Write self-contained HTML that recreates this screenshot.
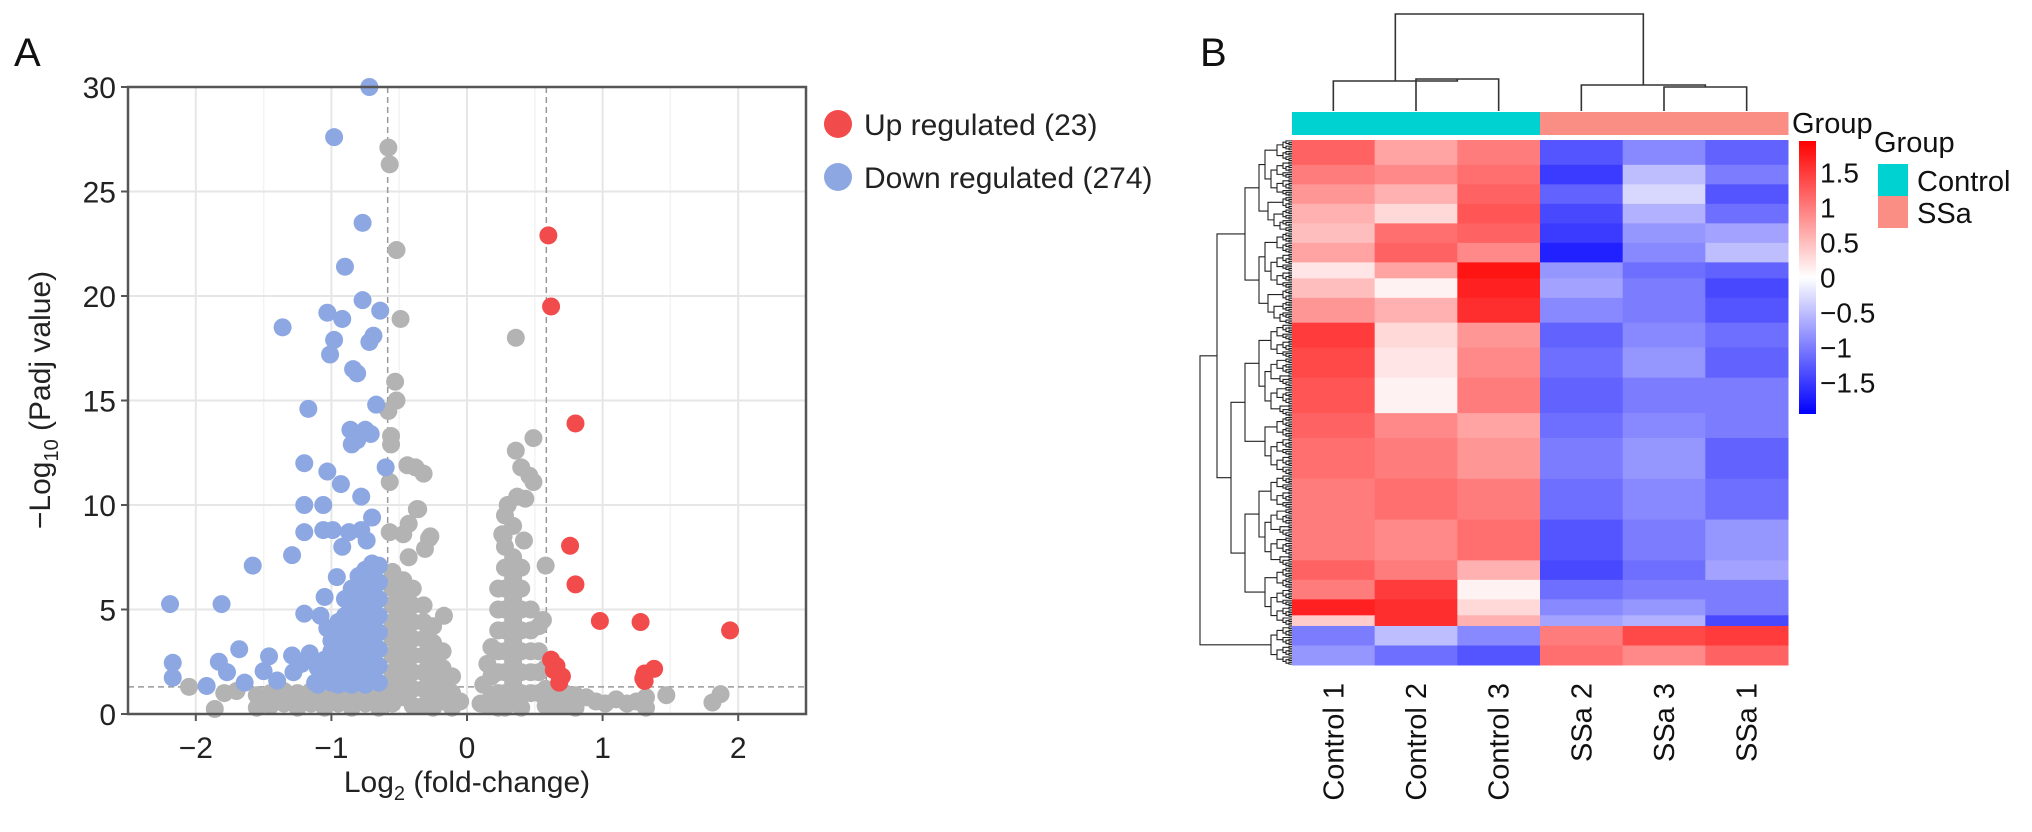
<!DOCTYPE html>
<html><head><meta charset="utf-8">
<style>
html,body{margin:0;padding:0;background:#fff;}
svg{display:block;font-family:"Liberation Sans",Arial,sans-serif;}
</style></head>
<body>
<svg id="fig" width="2032" height="832" viewBox="0 0 2032 832">
  <defs>
    <linearGradient id="cb" x1="0" y1="0" x2="0" y2="1">
      <stop offset="0" stop-color="#ff0000"/><stop offset="0.5" stop-color="#ffffff"/><stop offset="1" stop-color="#0000ff"/>
    </linearGradient>
  </defs>
  <text x="14" y="66" font-size="40" fill="#111">A</text>
  <text x="1200" y="66" font-size="40" fill="#111">B</text>
  <g id="volcano"></g>
  <text x="467" y="792" font-size="30" text-anchor="middle" fill="#222">Log<tspan font-size="20" dy="8">2</tspan><tspan dy="-8"> (fold-change)</tspan></text>
  <text transform="translate(50,400) rotate(-90)" font-size="30" text-anchor="middle" fill="#222">−Log<tspan font-size="20" dy="8">10</tspan><tspan dy="-8"> (Padj value)</tspan></text>
  <g><circle cx="838" cy="124" r="14" fill="#f24b4b"/><text x="864" y="135" font-size="30" fill="#222">Up regulated (23)</text></g>
  <g><circle cx="838" cy="177" r="14" fill="#8ca7e2"/><text x="864" y="188" font-size="30" fill="#222">Down regulated (274)</text></g>
  <g id="heat"></g>
  <text x="1792" y="133" font-size="29" fill="#111">Group</text>
  <rect x="1799" y="141" width="17" height="273" fill="url(#cb)"/>
  <text x="1874" y="152" font-size="29" fill="#111">Group</text>
  <g><rect x="1878" y="164" width="30" height="32" fill="#00d2d2"/><text x="1917" y="191" font-size="29" fill="#111">Control</text></g>
  <g><rect x="1878" y="196" width="30" height="32" fill="#fa8e84"/><text x="1917" y="223" font-size="29" fill="#111">SSa</text></g>
</svg>
<script>
// ===== Volcano data =====
const xTicks = [-2, -1, 0, 1, 2];
const yTicks = [0, 5, 10, 15, 20, 25, 30];
const fcThreshold = 0.585;
const pThreshold = 1.3;
const upPoints = [[0.60,22.9],[0.62,19.5],[0.80,13.9],[0.76,8.05],[0.80,6.2],[0.98,4.45],[1.28,4.4],[1.94,4.0],[1.38,2.16],[1.31,1.94],[1.31,1.58],[0.62,2.6],[0.64,2.1],[0.68,1.5],[0.70,1.8],[0.66,2.3],[1.30,1.7]];
const downPoints = [[-0.72,30],[-0.98,27.6],[-0.77,23.5],[-0.90,21.4],[-0.77,19.8],[-1.03,19.2],[-0.92,18.9],[-0.64,19.3],[-1.36,18.5],[-0.98,17.9],[-0.69,18.1],[-0.72,17.8],[-1.01,17.2],[-0.84,16.5],[-0.81,16.3],[-1.17,14.6],[-0.67,14.8],[-0.86,13.6],[-0.75,13.6],[-0.71,13.4],[-0.81,13.1],[-0.85,12.9],[-1.20,12.0],[-1.03,11.6],[-0.60,11.8],[-0.93,11.0],[-0.78,10.4],[-1.20,10.0],[-1.06,10.0],[-0.70,9.4],[-1.20,8.7],[-1.06,8.8],[-0.99,8.8],[-0.87,8.7],[-0.78,8.8],[-0.74,8.3],[-0.92,8.0],[-1.29,7.6],[-1.58,7.1],
[-2.19,5.26],[-1.81,5.26],[-1.68,3.1],[-2.17,2.45],[-2.17,1.74],[-1.83,2.5],[-1.77,2.0],[-1.92,1.34],[-1.64,1.5],[-1.29,2.8],[-1.46,2.76],[-1.50,2.05],[-1.20,4.8],[-1.08,4.7],[-1.03,4.1],[-1.05,5.6],[-0.96,6.55],[-1.16,2.9],[-1.28,2.0],[-1.00,3.5],[-1.40,1.6],[-1.12,1.5],[-1.22,2.4],
[-0.65,7.1],[-0.65,6.3],[-0.65,5.5],[-0.65,4.7],[-0.65,3.9],[-0.65,3.1],[-0.65,2.3],[-0.65,1.5],
[-0.70,7.2],[-0.70,6.4],[-0.70,5.6],[-0.70,4.8],[-0.70,4.0],[-0.70,3.2],[-0.70,2.4],[-0.70,1.6],
[-0.75,6.9],[-0.75,6.1],[-0.75,5.3],[-0.75,4.5],[-0.75,3.7],[-0.75,2.9],[-0.75,2.1],[-0.75,1.4],
[-0.80,6.6],[-0.80,5.8],[-0.80,5.0],[-0.80,4.2],[-0.80,3.4],[-0.80,2.6],[-0.80,1.8],
[-0.85,6.0],[-0.85,5.2],[-0.85,4.4],[-0.85,3.6],[-0.85,2.8],[-0.85,2.0],[-0.85,1.4],
[-0.90,5.5],[-0.90,4.7],[-0.90,3.9],[-0.90,3.1],[-0.90,2.3],[-0.90,1.5],
[-0.95,4.4],[-0.95,3.6],[-0.95,2.8],[-0.95,2.0],[-0.95,1.4],
[-1.00,3.0],[-1.00,2.2],[-1.00,1.5],[-1.05,2.6],[-1.05,1.8],[-1.10,2.2],[-1.10,1.4]];
const nsPoints = [[-0.58,27.1],[-0.57,26.3],[-0.52,22.2],[-0.49,18.9],[0.36,18.0],[-0.53,15.9],[-0.52,15.0],[-0.58,14.5],[-0.56,13.3],[-0.56,12.9],[0.49,13.2],[0.36,12.6],[-0.44,11.9],[-0.38,11.8],[-0.32,11.5],[-0.57,11.1],[0.40,11.8],[0.46,11.4],[0.49,11.1],[0.37,10.4],[0.43,10.3],[0.30,10.0],[-0.37,9.8],[-0.43,9.1],[-0.57,8.7],[-0.47,8.6],[-0.28,8.4],[-0.31,7.9],[0.26,8.6],[0.42,8.3],[-0.43,7.5],[0.58,7.1],
[-2.05,1.3],[-1.86,0.24],[-1.79,1.0],[-1.70,1.1],[1.47,0.9],[1.87,0.95],[1.81,0.55],[0.56,4.5],[0.27,8.5],[-0.27,8.5],[-0.36,9.8],[-0.17,4.7],
[-0.55,6.8],[-0.55,6.0],[-0.55,5.2],[-0.55,4.4],[-0.55,3.6],[-0.55,2.8],[-0.55,2.0],[-0.55,1.2],[-0.55,0.5],
[-0.47,6.4],[-0.47,5.6],[-0.47,4.8],[-0.47,4.0],[-0.47,3.2],[-0.47,2.4],[-0.47,1.6],[-0.47,0.8],
[-0.40,6.0],[-0.40,5.2],[-0.40,4.4],[-0.40,3.6],[-0.40,2.8],[-0.40,2.0],[-0.40,1.2],[-0.40,0.4],
[-0.32,5.2],[-0.32,4.4],[-0.32,3.6],[-0.32,2.8],[-0.32,2.0],[-0.32,1.2],[-0.32,0.4],
[-0.25,4.2],[-0.25,3.4],[-0.25,2.6],[-0.25,1.8],[-0.25,1.0],[-0.25,0.3],
[-0.18,3.0],[-0.18,2.2],[-0.18,1.4],[-0.18,0.6],[-0.11,1.8],[-0.11,1.0],[-0.11,0.3],[-0.05,0.6],
[0.10,0.5],[0.12,1.4],[0.15,2.4],[0.15,0.4],[0.18,3.2],[0.18,1.8],[0.18,0.8],
[0.23,6.0],[0.23,5.0],[0.23,4.0],[0.23,3.0],[0.23,2.0],[0.23,1.0],[0.23,0.3],
[0.28,9.5],[0.28,8.0],[0.28,7.0],[0.28,6.0],[0.28,5.0],[0.28,4.0],[0.28,3.0],[0.28,2.0],[0.28,1.0],[0.28,0.3],
[0.34,9.0],[0.34,7.5],[0.34,6.5],[0.34,5.5],[0.34,4.5],[0.34,3.5],[0.34,2.5],[0.34,1.5],[0.34,0.6],
[0.40,7.0],[0.40,6.0],[0.40,5.0],[0.40,4.0],[0.40,3.0],[0.40,2.0],[0.40,1.0],[0.40,0.3],
[0.47,5.0],[0.47,4.0],[0.47,3.0],[0.47,2.0],[0.47,1.0],[0.53,4.2],[0.53,3.0],[0.53,2.0],[0.53,1.0],[0.58,2.2],[0.58,1.2],[0.58,0.4],
[-1.55,0.9],[-1.55,0.3],[-1.45,1.0],[-1.45,0.4],[-1.35,1.1],[-1.35,0.5],[-1.25,1.0],[-1.25,0.3],[-1.15,1.1],[-1.15,0.5],[-1.05,1.0],[-1.05,0.3],[-0.95,1.1],[-0.95,0.5],[-0.85,1.0],[-0.85,0.3],[-0.75,1.1],[-0.75,0.5],[-0.65,1.0],[-0.65,0.3],
[0.65,1.1],[0.65,0.4],[0.72,1.0],[0.72,0.4],[0.80,0.9],[0.80,0.3],[0.88,0.8],[0.95,0.6],[1.02,0.5],[1.10,0.7],[1.18,0.5],[1.25,0.6],[1.32,0.8],[1.32,0.3]];

// ===== Heatmap data =====
const sampleLabels = ["Control 1","Control 2","Control 3","SSa 2","SSa 3","SSa 1"];
const sampleGroups = ["Control","Control","Control","SSa","SSa","SSa"];
const bandRowCounts = [14,11,11,11,11,11,9,11,14,14,17,20,14,23,23,23,11,11,9,6,11,11];
const bandValues = [
 [1.2,0.7,1.0,-1.3,-0.9,-1.2],[1.0,0.9,1.1,-1.5,-0.5,-1.0],[0.8,0.6,1.2,-1.2,-0.3,-1.3],[0.6,0.3,1.3,-1.4,-0.6,-1.1],
 [0.5,1.1,1.2,-1.5,-0.8,-0.7],[0.7,1.2,0.9,-1.7,-0.9,-0.5],[0.2,0.7,1.8,-0.8,-1.1,-1.2],[0.5,0.1,1.7,-0.7,-1.0,-1.4],
 [0.8,0.6,1.6,-0.9,-1.0,-1.3],[1.5,0.3,0.8,-1.2,-0.9,-1.1],[1.4,0.2,0.9,-1.1,-0.8,-1.2],[1.3,0.1,1.0,-1.2,-1.0,-1.0],
 [1.2,0.9,0.7,-1.1,-0.9,-1.0],[1.1,1.0,0.8,-1.0,-0.8,-1.2],[1.0,1.1,1.0,-1.1,-0.9,-1.1],[1.0,0.9,1.1,-1.3,-1.0,-0.8],
 [1.2,1.0,0.6,-1.4,-1.1,-0.7],[1.0,1.5,0.1,-1.1,-1.0,-1.0],[1.7,1.6,0.3,-0.9,-0.8,-1.0],[0.4,1.6,0.6,-0.7,-0.6,-1.4],
 [-1.0,-0.5,-0.9,1.0,1.4,1.5],[-0.8,-1.1,-1.3,1.1,0.9,1.2]];
const colorbarTicks = [1.5,1,0.5,0,-0.5,-1,-1.5];

const NS="http://www.w3.org/2000/svg";
function mk(tag, attrs, parent){const e=document.createElementNS(NS,tag);for(const k in attrs)e.setAttribute(k,attrs[k]);parent.appendChild(e);return e;}
const fmt=v=>(v<0?"\u2212"+Math.abs(v):""+v);

// ===== Volcano =====
const V=document.getElementById('volcano');
const L=128,R=806,T=87,B=714, xmin=-2.5,xmax=2.5,ymin=0,ymax=30;
const sx=v=>L+(v-xmin)/(xmax-xmin)*(R-L);
const sy=v=>B-(v-ymin)/(ymax-ymin)*(B-T);
for(let i=0;i<xTicks.length-1;i++){const g=mk('line',{x1:sx((xTicks[i]+xTicks[i+1])/2),x2:sx((xTicks[i]+xTicks[i+1])/2),y1:T,y2:B,stroke:'#f3f3f3','stroke-width':1.5},V);

}
xTicks.forEach(t=>{const g=mk('line',{x1:sx(t),x2:sx(t),y1:T,y2:B,stroke:'#e6e6e6','stroke-width':2},V);

});
yTicks.forEach(t=>{const g=mk('line',{x1:L,x2:R,y1:sy(t),y2:sy(t),stroke:'#e6e6e6','stroke-width':2},V);

});
[-fcThreshold,fcThreshold].forEach(t=>{const l=mk('line',{x1:sx(t),x2:sx(t),y1:T,y2:B,stroke:'#999','stroke-width':1.5,'stroke-dasharray':'6,4'},V);

});
const hl=mk('line',{x1:L,x2:R,y1:sy(pThreshold),y2:sy(pThreshold),stroke:'#999','stroke-width':1.5,'stroke-dasharray':'6,4'},V);


function pts(arr,colr,name){arr.forEach(p=>{const c=mk('circle',{cx:sx(p[0]),cy:sy(p[1]),r:9,fill:colr},V);

});}
pts(nsPoints,'#b3b3b3','point-not-significant');
pts(downPoints,'#8ca7e2','point-down-regulated');
pts(upPoints,'#f24b4b','point-up-regulated');
const fr=mk('rect',{x:L,y:T,width:R-L,height:B-T,fill:'none',stroke:'#555','stroke-width':2.5},V);


xTicks.forEach(t=>{const tk=mk('line',{x1:sx(t),x2:sx(t),y1:B,y2:B+7,stroke:'#555','stroke-width':2},V);


const tx=mk('text',{x:sx(t),y:B+44,'font-size':30,'text-anchor':'middle',fill:'#222'},V);tx.textContent=fmt(t);

});
yTicks.forEach(t=>{const tk=mk('line',{x1:L-7,x2:L,y1:sy(t),y2:sy(t),stroke:'#555','stroke-width':2},V);


const tx=mk('text',{x:L-12,y:sy(t)+11,'font-size':30,'text-anchor':'end',fill:'#222'},V);tx.textContent=t;

});

// ===== Heatmap =====
const H=document.getElementById('heat');
const HL=1292,HR=1788,HT=140,HB=665;
const nCols=sampleLabels.length, cw=(HR-HL)/nCols;
const totalRows=bandRowCounts.reduce((a,b)=>a+b,0), rh=(HB-HT)/totalRows;
function col(v){const m=1.95;let t=Math.max(-1,Math.min(1,v/m));
 if(t>=0){const w=Math.round(255*(1-t));return `rgb(255,${w},${w})`;} else {const w=Math.round(255*(1+t));return `rgb(${w},${w},255)`;}}
let r0=0;
bandValues.forEach((vals,bi)=>{
 vals.forEach((v,ci)=>{const c=mk('rect',{x:HL+ci*cw,y:HT+r0*rh,width:cw+0.5,height:bandRowCounts[bi]*rh+0.5,fill:col(v)},H);
 
 });
 r0+=bandRowCounts[bi];});
sampleGroups.forEach((g,ci)=>{const a=mk('rect',{x:HL+ci*cw,y:112,width:cw+0.5,height:23,fill:g==='Control'?'#00d2d2':'#fa8e84'},H);

});
sampleLabels.forEach((s,ci)=>{const cx=HL+(ci+0.5)*cw+10;const t=mk('text',{transform:`translate(${cx},683) rotate(-90)`,'font-size':29,'text-anchor':'end',fill:'#111'},H);
t.textContent=s;

});
const cc=i=>HL+(i+0.5)*cw;
const m23=(cc(1)+cc(2))/2, mC=(cc(0)+m23)/2, m56=(cc(4)+cc(5))/2, mS=(cc(3)+m56)/2;
const cd=mk('path',{d:`M${cc(1)},111V79H${cc(2)}V111 M${cc(0)},111V81H${m23}V79 M${cc(4)},111V87H${cc(5)}V111 M${cc(3)},111V85H${m56}V87 M${mC},81V14H${mS}V85`,fill:'none',stroke:'#333','stroke-width':1.6},H);


const rowPaths=[];
function tree(lo,hi,depth){ if(hi-lo<=1) return {y:HT+(lo+0.5)*rh,x:HL};
 let mid=Math.floor((lo+hi)/2 + ((depth%3)-1)*(hi-lo)*0.12);
 mid=Math.max(lo+1,Math.min(hi-1,mid));
 const a=tree(lo,mid,depth+1), b=tree(mid,hi,depth+1);
 const x=Math.min(a.x,b.x)-(hi-lo>60?14:(hi-lo>8?6:3));
 rowPaths.push(`M${a.x},${a.y}H${x}V${b.y}H${b.x}`); return {x:x,y:(a.y+b.y)/2};}
const split=totalRows-22;
const topT=tree(0,split,0), botT=tree(split,totalRows,1);
rowPaths.push(`M${topT.x},${topT.y}H1200V${botT.y}H${botT.x}`);
const rp=mk('path',{d:rowPaths.join(' '),fill:'none',stroke:'#222','stroke-width':1.1},H);


const CT=141,CB=414;
const cy=v=>CT+(1.95-v)/3.9*(CB-CT);
colorbarTicks.forEach(t=>{const tx=mk('text',{x:1820,y:cy(t)+10,'font-size':28,fill:'#111'},H);tx.textContent=fmt(t);

});
</script>
</body></html>
